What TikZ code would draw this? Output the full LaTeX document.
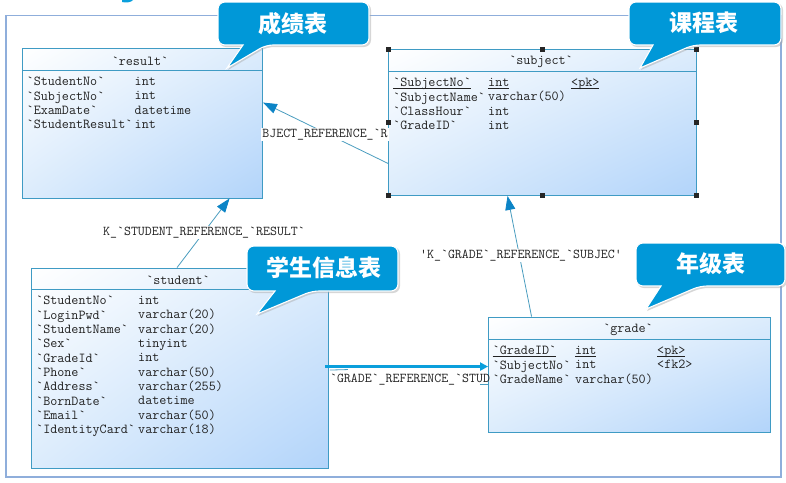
\documentclass[tikz,border=0pt]{standalone}
\usepackage{fontspec}
\setmonofont{Latin Modern Mono}
\newfontfamily\cjkfont{Noto Sans CJK SC}
\usetikzlibrary{arrows.meta,calc,shadings}
\definecolor{framecol}{HTML}{8FAEDB}
\definecolor{boxline}{HTML}{3F9BC4}
\definecolor{gradend}{HTML}{B2D4FA}
\definecolor{gradmid}{HTML}{DCECFC}
\definecolor{linkcol}{HTML}{4A9DBF}
\definecolor{tipcol}{HTML}{0C84C6}
\definecolor{brightcol}{HTML}{0A9FDC}
\definecolor{calloutcol}{HTML}{0098D8}
\definecolor{txtcol}{HTML}{222222}
\newsavebox{\ulbox}
\newcommand{\keyline}[1]{\sbox{\ulbox}{#1}\rlap{\rule[-2pt]{\wd\ulbox}{0.7pt}}\usebox{\ulbox}}
\tikzset{
  framebox/.style={draw=framecol,line width=1.3pt,fill=white,inner sep=0pt},
  tablebox/.style={draw=boxline,line width=0.9pt,inner sep=0pt,
    upper left=white,lower right=gradend,upper right=gradmid,lower left=gradmid},
  coltext/.style={anchor=north west,inner sep=0pt,align=left,text=txtcol,
    font=\ttfamily\fontsize{13.7}{14.35}\selectfont},
  headtext/.style={inner sep=0pt,text=txtcol,font=\ttfamily\fontsize{13.7}{14.35}\selectfont},
  linklabel/.style={inner sep=1pt,fill=white,text=txtcol,font=\ttfamily\fontsize{13.5}{14}\selectfont},
  linkline/.style={draw=linkcol,line width=0.8pt},
  linktip/.style={-{Triangle[length=14pt,width=10pt,fill=tipcol,color=tipcol]}},
  thicklink/.style={draw=brightcol,line width=2.2pt,-{Triangle[length=8pt,width=8pt]}},
  handlebox/.style={fill=black!85,draw=none,minimum size=5pt,inner sep=0pt},
  calloutshape/.style={draw=white,line width=1.1pt,fill=calloutcol},
  calloutshadow/.style={fill=black!35,opacity=0.45,draw=none},
  callouttext/.style={inner sep=0pt,text=white,font=\cjkfont\bfseries\fontsize{23}{25}\selectfont},
}
\newcommand{\calloutpath}[8]{%
  (#1,#2) [rounded corners=7pt] -- (#3,#2) -- (#3,#4) -- (#6,#4) [sharp corners] -- (#7,#8) -- (#5,#4) [rounded corners=7pt] -- (#1,#4) -- cycle}
\begin{document}
\begin{tikzpicture}[x=1pt,y=-1pt]
\useasboundingbox (0,0) rectangle (786,482);
\fill[fill=brightcol] (122,0) -- (133,0) .. controls (131,2.5) and (126,3) .. (122,2) -- cycle;
\node[framebox,minimum width=775pt,minimum height=461.5pt] (frame) at (393.5,246.2) {};

% tables
\node[tablebox,minimum width=239.5pt,minimum height=150pt] (result) at (142.25,123) {};
\node[tablebox,minimum width=308pt,minimum height=145.5pt] (subject) at (542.5,122.25) {};
\node[tablebox,minimum width=297pt,minimum height=200pt] (student) at (180,368) {};
\node[tablebox,minimum width=282pt,minimum height=115pt] (grade) at (629.5,374.5) {};

\draw[boxline,line width=0.9pt] ($(result.north west)+(0,23)$) -- ($(result.north east)+(0,23)$);
\draw[boxline,line width=0.9pt] ($(subject.north west)+(0,22.5)$) -- ($(subject.north east)+(0,22.5)$);
\draw[boxline,line width=0.9pt] ($(student.north west)+(0,22)$) -- ($(student.north east)+(0,22)$);
\draw[boxline,line width=0.9pt] ($(grade.north west)+(0,23)$) -- ($(grade.north east)+(0,23)$);

% headers
\node[headtext] (resulthead) at (140,61) {`result`};
\node[headtext] (subjecthead) at (541,62) {`subject`};
\node[headtext] (studenthead) at (178,280) {`student`};
\node[headtext] (gradehead) at (628,329.5) {`grade`};

% columns
\node[coltext] (resultnames) at (26.5,77) {`StudentNo`\\`SubjectNo`\\`ExamDate`\\`StudentResult`};
\node[coltext] (resulttypes) at (134.5,77) {int\\int\\datetime\\int};
\node[coltext] (subjectnames) at (393,78) {\keyline{`SubjectNo`}\\`SubjectName`\\`ClassHour`\\`GradeID`};
\node[coltext] (subjecttypes) at (488,78) {\keyline{int}\\varchar(50)\\int\\int};
\node[coltext] (subjectkeys) at (571,78) {\keyline{<pk>}};
\node[coltext] (studentnames) at (36,296) {`StudentNo`\\`LoginPwd`\\`StudentName`\\`Sex`\\`GradeId`\\`Phone`\\`Address`\\`BornDate`\\`Email`\\`IdentityCard`};
\node[coltext] (studenttypes) at (138,296) {int\\varchar(20)\\varchar(20)\\tinyint\\int\\varchar(50)\\varchar(255)\\datetime\\varchar(50)\\varchar(18)};
\node[coltext] (gradenames) at (492.5,346) {\keyline{`GradeID`}\\`SubjectNo`\\`GradeName`};
\node[coltext] (gradetypes) at (575,346) {\keyline{int}\\int\\varchar(50)};
\node[coltext] (gradekeys) at (657,346) {\keyline{<pk>}\\<fk2>};

% connectors
\coordinate (subjectout) at ($(subject.south west)+(0,-32)$);
\coordinate (resultin) at ($(result.north east)+(0.5,55)$);
\coordinate (studentout) at ($(student.north west)+(146,0)$);
\coordinate (resultbottom) at ($(result.south west)+(207.5,0)$);
\coordinate (gradeout) at ($(grade.north west)+(43.5,0)$);
\coordinate (subjectin) at ($(subject.south west)+(119.5,0.5)$);
\coordinate (studentright) at ($(student.north east)+(-4,99)$);
\coordinate (gradein) at ($(grade.north west)+(0,50)$);
\coordinate (stubend) at ($(student.north east)+(19,102)$);
\coordinate (stubstart) at ($(student.north east)+(1,102.5)$);
\coordinate (gradestubend) at ($(grade.north west)+(0,67.5)$);
\coordinate (gradestubstart) at ($(grade.north west)+(-8,67.5)$);

\draw[linkline,linktip] (subjectout) -- (resultin);
\draw[linkline,linktip] (studentout) -- (resultbottom);
\draw[linkline,linktip] (gradeout) -- (subjectin);
\draw[thicklink] (studentright) -- (gradein);
\draw[linkline] (stubstart) -- (stubend);

\node[linklabel] (lab1) at (325,134.5) {BJECT\_REFERENCE\_`R};
\node[linklabel] (lab2) at (204,232.5) {K\_`STUDENT\_REFERENCE\_`RESULT`};
\node[linklabel] (lab3) at (521,255.5) {'K\_`GRADE`\_REFERENCE\_`SUBJEC'};
\node[linklabel,fill=none] (lab4) at (410,379.5) {`GRADE`\_REFERENCE\_`STUD};
\draw[linkline] (gradestubstart) -- (gradestubend);

% selection handles
\foreach \a in {north west,north,north east,west,east,south west,south,south east}
  \node[handlebox] at (subject.\a) {};

% callouts
\fill[calloutshadow] \calloutpath{219}{3}{371}{47}{244}{267}{228}{70};
\fill[calloutshadow] \calloutpath{630}{3}{783}{47}{654}{694}{641}{70};
\fill[calloutshadow] \calloutpath{248}{247}{400}{293}{276}{313}{258}{316};
\fill[calloutshadow] \calloutpath{637}{244}{787}{288}{662}{701}{647}{311};
\draw[calloutshape] \calloutpath{218}{2}{369}{45}{243}{266}{227}{68};
\draw[calloutshape] \calloutpath{629}{2}{781}{45}{653}{693}{640}{68};
\draw[calloutshape] \calloutpath{247}{246}{398}{291}{275}{312}{257}{314};
\draw[calloutshape] \calloutpath{636}{243}{785}{286}{661}{700}{646}{309};
\node[callouttext] (c1) at (293,24) {成绩表};
\node[callouttext] (c2) at (704,23) {课程表};
\node[callouttext] (c3) at (324,268) {学生信息表};
\node[callouttext] (c4) at (711,264) {年级表};
\end{tikzpicture}
\end{document}
